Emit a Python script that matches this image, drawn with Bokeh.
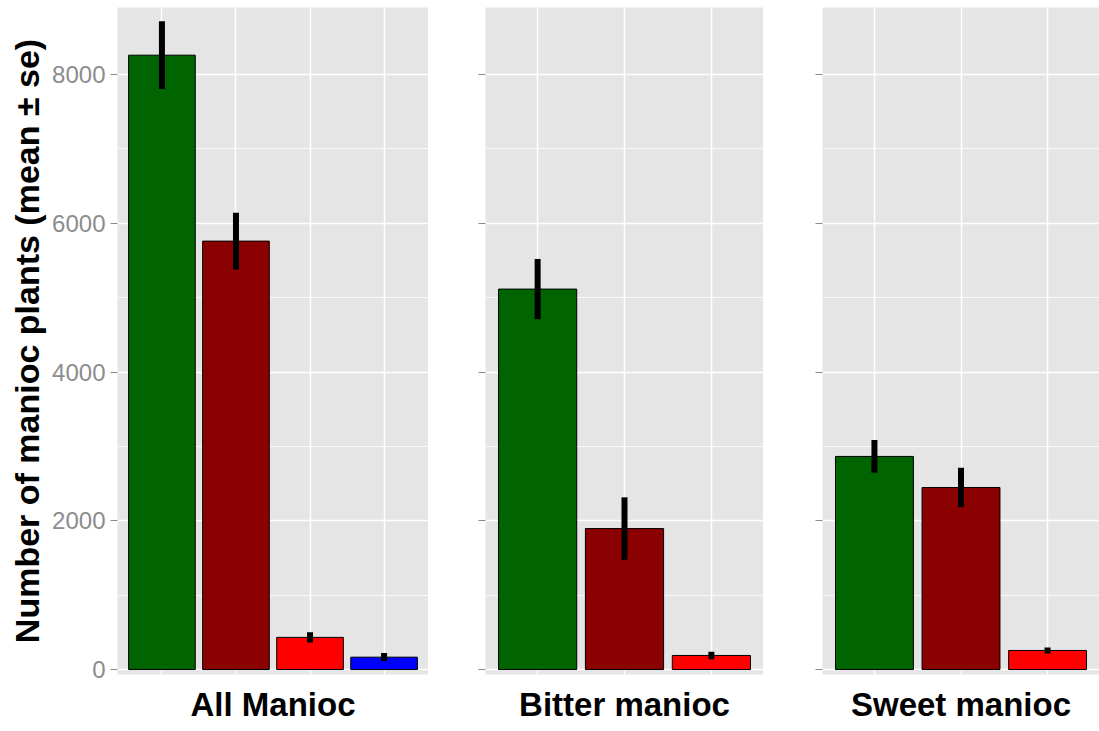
from bokeh.plotting import figure
from bokeh.layouts import row
from bokeh.models import (ColumnDataSource, FactorRange, Range1d, SingleIntervalTicker,
                          Title)
from bokeh.embed import file_html
from bokeh.resources import INLINE

# Mean number of manioc plants (± standard error) per group
groups_all = ["A", "B", "C", "D"]
all_mean = [8260, 5760, 432, 166]
all_se = [455, 380, 70, 56]

groups_bitter = ["A", "B", "C"]
bitter_mean = [5115, 1895, 189]
bitter_se = [405, 420, 51]

groups_sweet = ["A", "B", "C"]
sweet_mean = [2865, 2447, 256]
sweet_se = [220, 265, 40]

y_ticks = [0, 2000, 4000, 6000, 8000]
group_colors = ["#006400", "#8B0000", "#FF0000", "#0000FF"]
panel_titles = ["All Manioc", "Bitter manioc", "Sweet manioc"]
y_title = "Number of manioc plants (mean \u00b1 se)"

FONT = "Liberation Sans"
PANEL_BG = "#E5E5E5"
Y_MIN, Y_MAX = -67, 8901


def panel(groups, means, ses, title, frame_w, left, show_labels):
    src = ColumnDataSource(dict(
        x=groups,
        top=means,
        lo=[m - s for m, s in zip(means, ses)],
        hi=[m + s for m, s in zip(means, ses)],
        color=group_colors[:len(groups)],
    ))
    p = figure(
        x_range=FactorRange(factors=groups, range_padding=0.1,
                            range_padding_units="absolute"),
        y_range=Range1d(Y_MIN, Y_MAX),
        width=left + frame_w, height=731,
        min_border_left=left, min_border_right=0,
        min_border_top=7, min_border_bottom=57,
        output_backend="svg", toolbar_location=None,
    )
    p.background_fill_color = PANEL_BG
    p.border_fill_color = "white"
    p.outline_line_color = None

    p.vbar(x="x", top="top", bottom=0, width=0.9, source=src,
           fill_color="color", line_color="black", line_width=1)
    p.segment(x0="x", y0="lo", x1="x", y1="hi", source=src,
              line_color="black", line_width=6)

    # grid
    p.xgrid.grid_line_color = "white"
    p.xgrid.grid_line_width = 1.5
    p.ygrid.grid_line_color = "white"
    p.ygrid.grid_line_width = 1.5
    p.ygrid.minor_grid_line_color = "white"
    p.ygrid.minor_grid_line_width = 0.8

    p.xaxis.visible = False

    yax = p.yaxis[0]
    yax.ticker = SingleIntervalTicker(interval=2000, num_minor_ticks=2)
    yax.axis_line_color = None
    yax.major_tick_line_color = "#8C8C8C"
    yax.major_tick_line_width = 1.2
    yax.major_tick_out = 7
    yax.major_tick_in = 0
    yax.minor_tick_line_color = None
    if show_labels:
        yax.major_label_text_font = FONT
        yax.major_label_text_font_size = "24px"
        yax.major_label_text_color = "#8C8C8C"
        yax.major_label_standoff = 5
        yax.axis_label = y_title
        yax.axis_label_text_font = FONT
        yax.axis_label_text_font_size = "34px"
        yax.axis_label_text_font_style = "bold"
        yax.axis_label_text_color = "black"
        yax.axis_label_standoff = 3
    else:
        # tick marks only, no tick labels
        yax.major_label_overrides = {t: "" for t in y_ticks}
        yax.major_label_standoff = 0

    p.add_layout(Title(text=title, align="center", text_font=FONT,
                       text_font_size="33px", text_font_style="bold",
                       text_color="black", standoff=18), "below")
    return p


p1 = panel(groups_all, all_mean, all_se, panel_titles[0], 311, 117, True)
p2 = panel(groups_bitter, bitter_mean, bitter_se, panel_titles[1], 278, 57, False)
p3 = panel(groups_sweet, sweet_mean, sweet_se, panel_titles[2], 277, 59, False)

layout = row(p1, p2, p3, spacing=0)

with open("out.html", "w") as f:
    f.write(file_html(layout, INLINE))
